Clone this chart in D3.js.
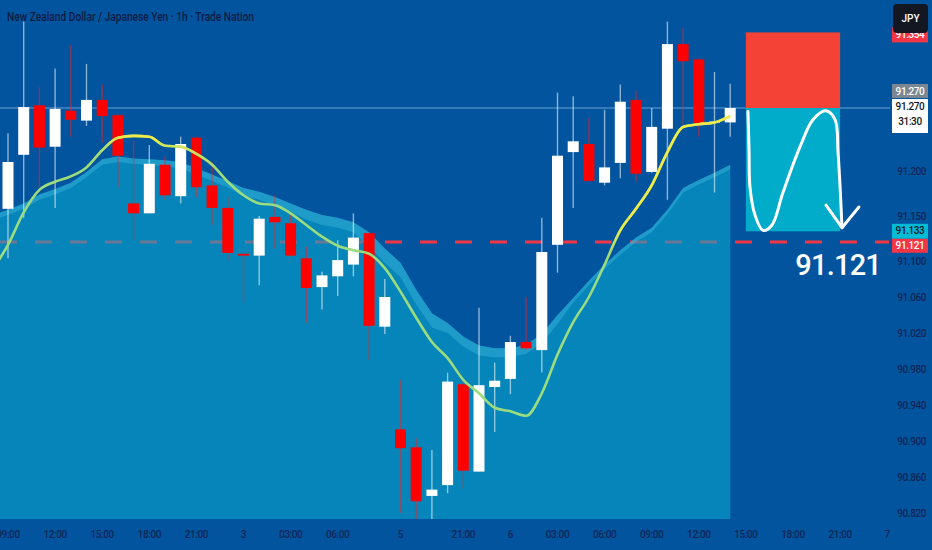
<!DOCTYPE html>
<html><head><meta charset="utf-8">
<script src="https://cdn.jsdelivr.net/npm/d3@7"></script>
<style>html,body{margin:0;padding:0;background:#02549e;overflow:hidden}</style>
</head><body><svg id="c" width="932" height="550"></svg>
<script>
// ---- DATA (hourly candles, index 0 = 09:00) ----
const opens  = [91.158,91.218,91.273,91.227,91.267,91.256,91.279,91.262,91.164,91.153,91.207,91.172,91.237,91.184,91.159,91.108,91.106,91.149,91.142,91.103,91.071,91.083,91.096,91.131,91.027,90.913,90.893,90.839,90.851,90.963,90.866,90.960,90.969,91.010,91.001,91.118,91.221,91.230,91.187,91.209,91.279,91.199,91.247,91.341,91.324,91.254,91.254];
const highs  = [91.242,91.366,91.293,91.314,91.340,91.319,91.296,91.263,91.234,91.229,91.216,91.238,91.238,91.210,91.171,91.108,91.150,91.173,91.153,91.116,91.088,91.123,91.153,91.132,91.080,90.968,90.903,90.890,90.976,90.970,91.048,90.987,91.017,91.060,91.148,91.287,91.283,91.259,91.268,91.296,91.289,91.270,91.366,91.359,91.325,91.310,91.297];
const lows   = [91.103,91.148,91.182,91.159,91.238,91.250,91.231,91.182,91.123,91.153,91.168,91.164,91.171,91.140,91.101,91.054,91.073,91.114,91.105,91.031,91.046,91.061,91.083,90.990,91.019,90.820,90.812,90.812,90.842,90.847,90.866,90.910,90.952,91.001,90.976,91.087,91.159,91.189,91.184,91.192,91.188,91.198,91.168,91.251,91.238,91.176,91.238];
const closes = [91.210,91.271,91.226,91.269,91.257,91.279,91.261,91.217,91.153,91.208,91.173,91.230,91.182,91.159,91.109,91.106,91.147,91.143,91.106,91.070,91.084,91.101,91.126,91.028,91.060,90.892,90.833,90.846,90.966,90.867,90.962,90.967,91.010,91.003,91.110,91.217,91.233,91.189,91.204,91.277,91.197,91.249,91.341,91.322,91.253,91.255,91.270];
// series below start one bar earlier (index -1)
const ema        = [91.090,91.118,91.154,91.179,91.188,91.194,91.204,91.223,91.237,91.239,91.238,91.228,91.227,91.219,91.207,91.188,91.173,91.164,91.162,91.153,91.140,91.127,91.117,91.112,91.108,91.092,91.066,91.037,91.010,90.992,90.968,90.953,90.937,90.933,90.928,90.953,90.996,91.032,91.060,91.096,91.134,91.158,91.184,91.221,91.249,91.252,91.254,91.261];
const bandUpper  = [91.151,91.157,91.164,91.174,91.180,91.187,91.199,91.213,91.216,91.214,91.213,91.212,91.210,91.203,91.196,91.189,91.181,91.177,91.171,91.164,91.157,91.151,91.148,91.143,91.132,91.114,91.098,91.068,91.042,91.031,91.016,91.006,91.003,91.003,91.007,91.019,91.040,91.059,91.078,91.096,91.112,91.126,91.137,91.157,91.181,91.190,91.198,91.207];
const bandLower  = [91.145,91.151,91.158,91.168,91.174,91.181,91.193,91.207,91.210,91.208,91.207,91.205,91.203,91.196,91.189,91.182,91.172,91.168,91.162,91.155,91.146,91.140,91.137,91.132,91.116,91.098,91.082,91.052,91.026,91.020,91.005,90.995,90.993,90.993,90.997,91.009,91.030,91.054,91.073,91.091,91.107,91.121,91.132,91.152,91.176,91.185,91.193,91.202];
const seriesStart = -1;

const timeTickIndex  = [0,3,6,9,12,15,18,21,25,29,32,35,38,41,44,47,50,53,56];
const timeTickLabels = ["09:00","12:00","15:00","18:00","21:00","3","03:00","06:00","5","21:00","6","03:00","06:00","09:00","12:00","15:00","18:00","21:00","7"];
// visible price scale labels (91.250 / 91.300 / 91.350 sit behind the price tags)
const priceTicks = [90.820,90.860,90.900,90.940,90.980,91.020,91.060,91.100,91.150,91.200];

const lastPrice = 91.270, stopPrice = 91.354, targetPrice = 91.133, levelPrice = 91.121;
const countdown = "31:30", currency = "JPY";
const boxStart = 47, boxEnd = 53;
// hand-drawn projection curve (bar index, price)
const curveIdx   = [47.13,47.20,47.26,47.58,48.09,48.66,49.36,50.45,51.27,52.10,52.68,52.87,53.00,53.12];
const curvePrice = [91.266,91.223,91.182,91.151,91.134,91.140,91.176,91.227,91.257,91.267,91.257,91.220,91.182,91.137];
const arrowIdx   = [52.10,53.12,54.20];
const arrowPrice = [91.162,91.137,91.160];
const title = "New Zealand Dollar / Japanese Yen · 1h · Trade Nation";

// ---- CHART ----
const W=932,H=550, plotRight=890, plotBottom=519;
const svg = d3.select('#c');
const x = d3.scaleLinear().domain([0,46]).range([8,730.2]);
const y = d3.scaleLinear().domain([90.82,91.27]).range([513,108]);
const defs = svg.append('defs');
defs.append('clipPath').attr('id','plot').append('rect').attr('x',0).attr('y',0).attr('width',plotRight).attr('height',plotBottom);

svg.append('rect').attr('width',W).attr('height',H).attr('fill','#02549e');
const g = svg.append('g').attr('clip-path','url(#plot)');

// current price line
g.append('line').attr('x1',0).attr('x2',plotRight).attr('y1',y(lastPrice)).attr('y2',y(lastPrice))
  .attr('stroke','rgba(140,185,230,0.75)').attr('stroke-width',1);
// dashed level
g.append('line').attr('x1',0).attr('x2',plotRight-1).attr('y1',y(levelPrice)).attr('y2',y(levelPrice))
  .attr('stroke','#f23645').attr('stroke-width',3).attr('stroke-dasharray','17,18');

const xi = k => x(k + seriesStart);
// area
g.append('path').datum(bandUpper)
  .attr('d', d3.area().x((d,k)=>xi(k)).y0(plotBottom).y1(d=>y(d)))
  .attr('fill','rgb(10,167,205)').attr('fill-opacity',0.6);
g.append('path').datum(bandUpper)
  .attr('d', d3.area().x((d,k)=>xi(k)).y0((d,k)=>y(bandLower[k])).y1(d=>y(d)))
  .attr('fill','rgba(90,210,240,0.3)');

// candles
const candles = opens.map((o,i)=>({i,o,h:highs[i],l:lows[i],c:closes[i]}));
const cg = g.append('g');
cg.selectAll('line.w').data(candles).join('line')
  .attr('x1',d=>x(d.i)).attr('x2',d=>x(d.i)).attr('y1',d=>y(d.h)).attr('y2',d=>y(d.l))
  .attr('stroke',d=>d.c>=d.o?'rgba(255,255,255,0.55)':'rgba(255,30,30,0.5)').attr('stroke-width',1.4);
cg.selectAll('rect.b').data(candles).join('rect')
  .attr('x',d=>x(d.i)-5.5).attr('width',11)
  .attr('y',d=>y(Math.max(d.o,d.c))).attr('height',d=>Math.max(1.2,Math.abs(y(d.o)-y(d.c))))
  .attr('fill',d=>d.c>=d.o?'#ffffff':'#ff0000');

// ema line: green near/inside the band, yellow well above it (soft transition)
defs.append('filter').attr('id','soft').attr('x','-10%').attr('y','-10%').attr('width','120%').attr('height','120%')
  .append('feGaussianBlur').attr('stdDeviation',4);
const mask = defs.append('mask').attr('id','yel').attr('maskUnits','userSpaceOnUse')
  .attr('x',0).attr('y',0).attr('width',W).attr('height',H);
mask.append('rect').attr('width',W).attr('height',H).attr('fill','#fff');
mask.append('path').datum(bandUpper)
  .attr('d', d3.area().x((d,k)=>xi(k)).y0(plotBottom+30).y1(d=>y(d)-14))
  .attr('fill','#000').attr('filter','url(#soft)');
const emaLine = d3.line().x((d,k)=>xi(k)).y(d=>y(d)).curve(d3.curveMonotoneX);
g.append('path').datum(ema).attr('d',emaLine).attr('fill','none').attr('stroke','#9bdc7e').attr('stroke-width',2.6).attr('stroke-linejoin','round');
g.append('g').attr('mask','url(#yel)').append('path').datum(ema).attr('d',emaLine)
  .attr('fill','none').attr('stroke','#f2ea45').attr('stroke-width',2.6).attr('stroke-linejoin','round');

// position boxes
g.append('rect').attr('x',x(boxStart)).attr('width',x(boxEnd)-x(boxStart))
  .attr('y',y(stopPrice)).attr('height',y(lastPrice)-y(stopPrice)).attr('fill','#f44336');
g.append('rect').attr('x',x(boxStart)).attr('width',x(boxEnd)-x(boxStart))
  .attr('y',y(lastPrice)).attr('height',y(targetPrice)-y(lastPrice)).attr('fill','#00acc9');
const cpts = curveIdx.map((v,k)=>[x(v),y(curvePrice[k])]);
g.append('path').attr('d',d3.line().curve(d3.curveCatmullRom.alpha(0.5))(cpts))
  .attr('fill','none').attr('stroke','#fff').attr('stroke-width',3).attr('stroke-linecap','round');
g.append('path').attr('d',d3.line()(arrowIdx.map((v,k)=>[x(v),y(arrowPrice[k])])))
  .attr('fill','none').attr('stroke','#fff').attr('stroke-width',3).attr('stroke-linecap','round').attr('stroke-linejoin','round');

svg.append('text').attr('x',881).attr('y',y(levelPrice)+33).attr('text-anchor','end')
  .attr('font-family','Roboto, "Noto Sans", sans-serif').attr('font-size',29).attr('font-weight',500)
  .attr('fill','#ffffff').attr('letter-spacing',-0.8).text(levelPrice.toFixed(3));

// time axis
const axisFont = 'Roboto, "DejaVu Sans", sans-serif', axisCol = '#112656';
svg.append('g').selectAll('text').data(timeTickIndex).join('text')
  .attr('x',d=>x(d)).attr('y',538).attr('text-anchor','middle')
  .attr('font-family',axisFont).attr('font-size',10).attr('font-weight',500).attr('fill',axisCol)
  .attr('letter-spacing',-0.4).text((d,k)=>timeTickLabels[k]);
// price axis
svg.append('g').selectAll('text').data(priceTicks).join('text')
  .attr('x',926).attr('y',d=>y(d)+4).attr('text-anchor','end')
  .attr('font-family',axisFont).attr('font-size',10).attr('font-weight',500).attr('fill',axisCol)
  .attr('letter-spacing',-0.4).text(d=>d.toFixed(3));

// price tags
function tag(top, h, fill, color, lines){
  svg.append('rect').attr('x',892).attr('y',top).attr('width',36).attr('height',h).attr('fill',fill);
  lines.forEach((t,k)=>svg.append('text').attr('x',910).attr('y',top+10.5+k*15).attr('text-anchor','middle')
    .attr('font-family',axisFont).attr('font-size',10).attr('font-weight',500).attr('fill',color)
    .attr('letter-spacing',-0.4).text(t));
}
tag(y(stopPrice)-5, 15, '#f23645', '#ffffff', [stopPrice.toFixed(3)]);
tag(y(lastPrice)-24, 14, '#7d8792', '#ffffff', [lastPrice.toFixed(3)]);
tag(y(lastPrice)-9, 34, '#ffffff', '#131722', [lastPrice.toFixed(3), countdown]);
const tTop = y(targetPrice)-7.5;
tag(tTop, 15, '#00bcd4', '#131722', [targetPrice.toFixed(3)]);
tag(tTop+15, 14, '#f23645', '#ffffff', [levelPrice.toFixed(3)]);
// currency box (covers the top of the stop tag)
svg.append('rect').attr('x',893).attr('y',4).attr('width',35).attr('height',29).attr('rx',4).attr('fill','#131722');
svg.append('text').attr('x',910.5).attr('y',22).attr('text-anchor','middle').attr('font-family',axisFont)
  .attr('font-size',10).attr('font-weight',500).attr('fill','#ffffff').text(currency);

// title
svg.append('text').attr('x',7).attr('y',21).attr('font-family',axisFont).attr('font-size',12).attr('font-weight',500)
  .attr('fill','#0e1c45').attr('textLength',247).attr('lengthAdjust','spacingAndGlyphs').text(title);
</script></body></html>
